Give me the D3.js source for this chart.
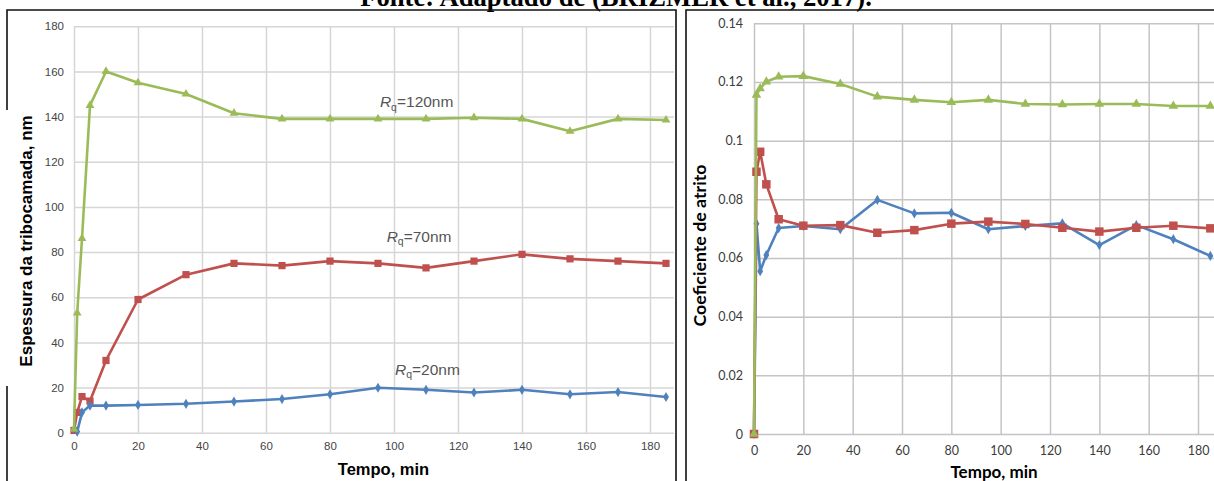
<!DOCTYPE html>
<html>
<head>
<meta charset="utf-8">
<script src="https://cdn.jsdelivr.net/npm/d3@7"></script>
<style>
  html, body { margin: 0; padding: 0; background: #fff; }
  svg { display: block; }
</style>
</head>
<body>
<svg id="fig" width="1214" height="481"></svg>
<script>
// Sampling times (min), shared by every series
const tempo = [0, 1, 2.5, 5, 10, 20, 35, 50, 65, 80, 95, 110, 125, 140, 155, 170, 185];

// Tribolayer thickness (nm)
const espessura120 = [1.5, 53, 86, 145, 160, 155, 150, 141.5, 139, 139, 139, 139, 139.5, 139, 133.5, 139, 138.5];
const espessura70  = [1, 9, 16, 14, 32, 59, 70, 75, 74, 76, 75, 73, 76, 79, 77, 76, 75];
const espessura20  = [null, 0.5, 9, 12, 12, 12.3, 12.8, 13.8, 14.9, 17, 19.9, 19, 17.8, 19, 17, 18, 15.8];

// Friction coefficient
const atrito120 = [0, 0.1156, 0.1178, 0.1201, 0.1218, 0.122, 0.1193, 0.115, 0.1139, 0.1131, 0.1139, 0.1125, 0.1123, 0.1125, 0.1125, 0.1118, 0.1118];
const atrito70  = [0, 0.0894, 0.0962, 0.0851, 0.0732, 0.071, 0.0712, 0.0686, 0.0695, 0.0717, 0.0724, 0.0716, 0.0703, 0.069, 0.0703, 0.071, 0.0701];
const atrito20  = [0, 0.0717, 0.0555, 0.061, 0.0702, 0.0709, 0.0698, 0.0798, 0.0752, 0.0754, 0.0698, 0.0709, 0.0718, 0.0644, 0.0712, 0.0664, 0.0607];

// Tick values and labels
const xTicks = [0, 20, 40, 60, 80, 100, 120, 140, 160, 180];
const yTicksEsp = [0, 20, 40, 60, 80, 100, 120, 140, 160, 180];
const yTicksAtr = [0, 0.02, 0.04, 0.06, 0.08, 0.1, 0.12, 0.14];
const fmtAtr = d => d === 0 ? "0" : String(+d.toFixed(2));

const serieCores = { "120": "#9bbb59", "70": "#c0504d", "20": "#4f81bd" };
const serieSimbolos = { "120": d3.symbolTriangle, "70": d3.symbolSquare, "20": d3.symbolDiamond };

const svg = d3.select("#fig");

// Source line across the top, sized to span 512 px
const fonte = svg.append("text")
  .attr("x", 616).attr("y", 6)
  .attr("text-anchor", "middle")
  .attr("font-family", "Liberation Serif, Times New Roman, serif")
  .attr("font-weight", "bold")
  .attr("font-size", 22)
  .attr("fill", "#000")
  .text("Fonte: Adaptado de (BRIZMER et al., 2017).");
const larguraFonte = fonte.node().getComputedTextLength();
if (larguraFonte > 0) fonte.attr("font-size", 22 * 512 / larguraFonte);

// Panel frames
const frames = svg.append("g").attr("stroke", "#111").attr("stroke-width", 1.6).attr("fill", "none");
frames.append("path").attr("d", "M7,110 V10 H676 V490");
frames.append("path").attr("d", "M7,386 V490");
frames.append("path").attr("d", "M686,490 V10 H1220");

function drawPanel(cfg) {
  const g = svg.append("g");
  const x = cfg.x, y = cfg.y;
  const [x0, x1] = x.range();
  const [y0, y1] = y.range();

  // grid
  g.append("g")
    .attr("transform", `translate(0,${y0})`)
    .call(d3.axisBottom(x).tickValues(xTicks).tickSize(-(y0 - y1)).tickFormat(""))
    .call(s => s.select(".domain").remove())
    .call(s => s.selectAll("line").attr("stroke", cfg.grid).attr("stroke-width", 1.5));
  g.append("g")
    .attr("transform", `translate(${x0},0)`)
    .call(d3.axisLeft(y).tickValues(cfg.yTicks).tickSize(-(x1 - x0)).tickFormat(""))
    .call(s => s.select(".domain").remove())
    .call(s => s.selectAll("line").attr("stroke", cfg.grid).attr("stroke-width", 1.5));

  // tick labels
  g.append("g")
    .attr("transform", `translate(0,${y0})`)
    .call(d3.axisBottom(x).tickValues(xTicks).tickSize(0).tickPadding(cfg.xPad))
    .call(s => s.select(".domain").remove())
    .call(s => s.selectAll("text")
      .attr("font-family", cfg.tickFont).attr("font-size", cfg.tickSize)
      .attr("fill", cfg.tickColor));
  g.append("g")
    .attr("transform", `translate(${x0},0)`)
    .call(d3.axisLeft(y).tickValues(cfg.yTicks).tickSize(0).tickPadding(cfg.yPad).tickFormat(cfg.yFmt))
    .call(s => s.select(".domain").remove())
    .call(s => s.selectAll("text")
      .attr("font-family", cfg.tickFont).attr("font-size", cfg.tickSize)
      .attr("fill", cfg.tickColor));

  // series
  cfg.order.forEach(nome => {
    const vals = cfg.series[nome];
    const pts = tempo.map((t, i) => [t, vals[i]]).filter(p => p[1] != null);
    g.append("path")
      .datum(pts)
      .attr("fill", "none")
      .attr("stroke", serieCores[nome])
      .attr("stroke-width", cfg.lineWidth)
      .attr("stroke-linejoin", "round")
      .attr("d", d3.line().x(p => x(p[0])).y(p => y(p[1])));
    g.append("g").selectAll("path")
      .data(pts)
      .join("path")
      .attr("transform", p => `translate(${x(p[0])},${y(p[1])})`)
      .attr("fill", serieCores[nome])
      .attr("d", d3.symbol(serieSimbolos[nome], cfg.markerSize[nome]));
  });

  // axis titles
  g.append("text")
    .attr("x", cfg.xTitle[0]).attr("y", cfg.xTitle[1])
    .attr("text-anchor", "middle")
    .attr("font-family", cfg.titleFont).attr("font-weight", "bold")
    .attr("font-size", cfg.titleSize).attr("fill", "#000")
    .text("Tempo, min");
  g.append("text")
    .attr("transform", `translate(${cfg.yTitle[0]},${cfg.yTitle[1]}) rotate(-90)`)
    .attr("text-anchor", "middle")
    .attr("font-family", cfg.titleFont).attr("font-weight", "bold")
    .attr("font-size", cfg.yTitleSize || cfg.titleSize).attr("fill", "#000")
    .text(cfg.yLabel);
  return g;
}

// Left panel: tribolayer thickness
const xEsp = d3.scaleLinear().domain([0, 187.5]).range([74, 674]);
const yEsp = d3.scaleLinear().domain([0, 180]).range([432.7, 26.3]);
const gEsp = drawPanel({
  x: xEsp, y: yEsp, yTicks: yTicksEsp, yFmt: d3.format("d"),
  grid: "#d6d6d6",
  tickFont: "Liberation Sans, Arial, sans-serif", tickSize: 11.5, tickColor: "#454545",
  xPad: 9.5, yPad: 10,
  series: { "120": espessura120, "70": espessura70, "20": espessura20 },
  order: ["70", "20", "120"],
  lineWidth: 2.6,
  markerSize: { "120": 34, "70": 52, "20": 30 },
  titleFont: "Liberation Sans, Arial, sans-serif", titleSize: 16.5, yTitleSize: 17,
  xTitle: [383.5, 475], yTitle: [32, 241],
  yLabel: "Espessura da tribocamada, nm"
});

// Rq annotations on the left panel
const rotulos = [
  { nome: "120", t: 95.6, v: 144.2 },
  { nome: "70", t: 97.7, v: 84.6 },
  { nome: "20", t: 100.3, v: 25.6 }
];
rotulos.forEach(r => {
  const txt = gEsp.append("text")
    .attr("x", xEsp(r.t)).attr("y", yEsp(r.v))
    .attr("font-family", "Liberation Sans, Arial, sans-serif")
    .attr("font-size", 15.5).attr("fill", "#555");
  txt.append("tspan").attr("font-style", "italic").text("R");
  txt.append("tspan").attr("font-size", 10.5).attr("dy", 3.5).text("q");
  txt.append("tspan").attr("dy", -3.5).text(`=${r.nome}nm`);
});

// Right panel: friction coefficient
const xAtr = d3.scaleLinear().domain([0, 190]).range([754, 754 + 190 * 2.4667]);
const yAtr = d3.scaleLinear().domain([0, 0.14]).range([434, 23.3]);
drawPanel({
  x: xAtr, y: yAtr, yTicks: yTicksAtr, yFmt: fmtAtr,
  grid: "#c4c4c4",
  tickFont: "Lato, Open Sans, sans-serif", tickSize: 12.5, tickColor: "#3c3c3c",
  xPad: 12, yPad: 11,
  series: { "120": atrito120, "70": atrito70, "20": atrito20 },
  order: ["20", "70", "120"],
  lineWidth: 2.6,
  markerSize: { "120": 40, "70": 72, "20": 30 },
  titleFont: "Lato, Open Sans, sans-serif", titleSize: 17, yTitleSize: 17.8,
  xTitle: [994, 478], yTitle: [706, 245.5],
  yLabel: "Coeficiente de atrito"
});
</script>
</body>
</html>
